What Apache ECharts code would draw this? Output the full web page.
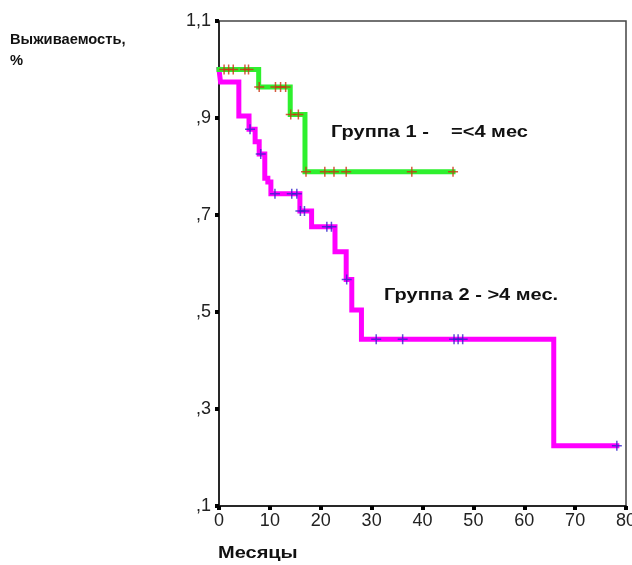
<!DOCTYPE html>
<html>
<head>
<meta charset="utf-8">
<title>Выживаемость</title>
<script src="https://cdn.jsdelivr.net/npm/echarts@6/dist/echarts.min.js"></script>
<style>
  html, body { margin: 0; padding: 0; background: #fff; }
  #chart { width: 632px; height: 565px; }
</style>
</head>
<body>
<div id="chart"></div>
<script>
// Kaplan–Meier survival curves, two groups (months vs. survival fraction)
const xTicks = [0, 10, 20, 30, 40, 50, 60, 70, 80];
const yTicks = [0.1, 0.3, 0.5, 0.7, 0.9, 1.1];
const yTickLabels = [',1', ',3', ',5', ',7', ',9', '1,1'];

// Group 1: step times (months) and survival from each step onward
const g1Times = [0, 7.8, 14.0, 16.9, 46.0];
const g1Surv = [1.0, 0.964, 0.907, 0.789, 0.789];
const g1Censored = [1.0, 1.9, 2.8, 5.1, 5.8, 7.9, 11.1, 12.1, 13.1, 14.1, 15.6, 17.1, 20.8, 22.6, 25.0, 37.9, 46.0];

// Group 2
const g2Times = [0, 0.3, 3.9, 5.9, 7.1, 7.9, 9.0, 9.6, 10.2, 15.9, 18.2, 22.8, 25.0, 26.1, 28.0, 65.8, 78.2];
const g2Surv = [1.0, 0.974, 0.904, 0.877, 0.851, 0.826, 0.776, 0.768, 0.744, 0.708, 0.676, 0.624, 0.567, 0.504, 0.444, 0.224, 0.224];
const g2Censored = [6.1, 8.2, 11.0, 14.3, 15.3, 16.0, 16.8, 21.2, 22.1, 25.1, 30.9, 36.1, 46.2, 47.0, 47.9, 78.2];

const group1Label = 'Группа 1 -    =<4 мес';
const group2Label = 'Группа 2 - >4 мес.';

function stepData(times, surv) {
  return times.map((t, i) => [t, surv[i]]);
}
// survival level in effect at time t
function levelAt(times, surv, t) {
  let v = surv[0];
  for (let i = 0; i < times.length; i++) {
    if (times[i] <= t) v = surv[i];
  }
  return v;
}
function censorData(times, surv, cens) {
  return cens.map(t => [t, levelAt(times, surv, t)]);
}

const plusPath = 'path://M0,5L10,5M5,0L5,10';
const labelFont = "'Liberation Sans Narrow', 'Liberation Sans', Arial, sans-serif";
const boldFont = "'Liberation Sans', Arial, sans-serif";

const chart = echarts.init(document.getElementById('chart'), null, { renderer: 'canvas' });

chart.setOption({
  animation: false,
  backgroundColor: '#ffffff',
  grid: {
    left: 219, top: 21, width: 407, height: 485,
    containLabel: false, outerBoundsMode: 'none',
    show: true, borderColor: '#444', borderWidth: 1.5, backgroundColor: 'transparent'
  },
  xAxis: {
    type: 'value', min: 0, max: 80, interval: 10,
    axisLine: { show: true, lineStyle: { color: '#111', width: 1.5 } },
    axisTick: { show: true, length: 4, lineStyle: { color: '#000', width: 4 } },
    axisLabel: {
      margin: 6, color: '#222', fontSize: 18, fontFamily: labelFont,
      customValues: xTicks, formatter: v => String(v)
    },
    splitLine: { show: false }
  },
  yAxis: {
    type: 'value', min: 0.1, max: 1.1,
    axisLine: { show: true, lineStyle: { color: '#111', width: 1.5 } },
    axisTick: { show: true, length: 4, lineStyle: { color: '#000', width: 4 }, customValues: yTicks },
    axisLabel: {
      margin: 8, color: '#222', fontSize: 18, fontFamily: labelFont,
      customValues: yTicks,
      formatter: v => {
        const i = yTicks.findIndex(t => Math.abs(t - v) < 1e-6);
        return i >= 0 ? yTickLabels[i] : '';
      }
    },
    splitLine: { show: false }
  },
  series: [
    {
      name: group2Label, type: 'line', step: 'end', showSymbol: false,
      data: stepData(g2Times, g2Surv),
      lineStyle: { color: '#ff00ff', width: 5, cap: 'square', join: 'miter' },
      z: 2
    },
    {
      name: group1Label, type: 'line', step: 'end', showSymbol: false,
      data: stepData(g1Times, g1Surv),
      lineStyle: { color: '#2ef02e', width: 5, cap: 'square', join: 'miter' },
      z: 3
    },
    {
      type: 'scatter', symbol: plusPath, symbolSize: 10, symbolKeepAspect: true,
      data: censorData(g2Times, g2Surv, g2Censored),
      itemStyle: { color: 'none', borderColor: '#3322cc', borderWidth: 1.5 },
      z: 4
    },
    {
      type: 'scatter', symbol: plusPath, symbolSize: 10, symbolKeepAspect: true,
      data: censorData(g1Times, g1Surv, g1Censored),
      itemStyle: { color: 'none', borderColor: '#cc3311', borderWidth: 1.5 },
      z: 5
    }
  ],
  graphic: [
    { type: 'text', x: 10, y: 33, scaleX: 1.05, style: { text: 'Выживаемость,', font: "bold 14px " + boldFont, fill: '#111' } },
    { type: 'text', x: 10, y: 54, scaleX: 1.05, style: { text: '%', font: "bold 14px " + boldFont, fill: '#111' } },
    { type: 'text', x: 218, y: 546, scaleX: 1.25, style: { text: 'Месяцы', font: "bold 16px " + boldFont, fill: '#111' } },
    { type: 'text', x: 331, y: 125, scaleX: 1.25, style: { text: group1Label, font: "bold 16px " + boldFont, fill: '#111' } },
    { type: 'text', x: 384, y: 288, scaleX: 1.25, style: { text: group2Label, font: "bold 16px " + boldFont, fill: '#111' } }
  ]
});
</script>
</body>
</html>
